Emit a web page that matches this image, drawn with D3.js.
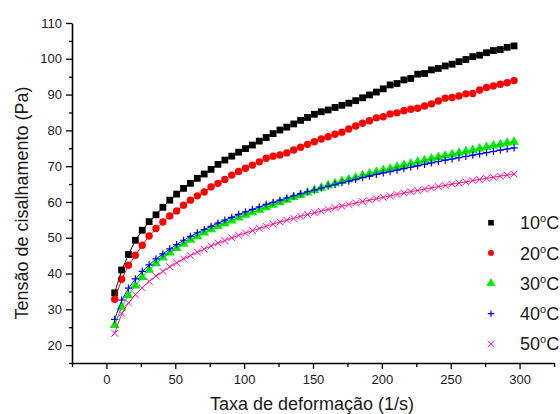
<!DOCTYPE html>
<html>
<head>
<meta charset="utf-8">
<script src="https://cdn.jsdelivr.net/npm/d3@7"></script>
<style>
  body { margin: 0; background: #fff; }
  svg { display: block; }
</style>
</head>
<body>
<svg></svg>
<script>
// shear rate (1/s), shared by every temperature
const shearRate = [6, 11, 16, 21, 26, 31, 36, 41, 46, 51, 56, 61, 66, 71, 76, 81, 86, 91, 96, 101,
  106, 111, 116, 121, 126, 131, 136, 141, 146, 151, 156, 161, 166, 171, 176, 181, 186, 191, 196, 201,
  206, 211, 216, 221, 226, 231, 236, 241, 246, 251, 256, 261, 266, 271, 276, 281, 286, 291, 296];

// shear stress (Pa)
const tau10 = [34.6, 41.0, 45.3, 49.3, 52.1, 54.5, 56.4, 58.5, 60.5, 62.2, 63.8, 65.2, 66.6, 67.8, 69.1,
  70.5, 71.7, 72.8, 73.9, 74.9, 75.9, 77.0, 78.0, 79.1, 80.1, 80.9, 81.8, 82.8, 83.6, 84.5, 85.2, 85.7,
  86.4, 87.0, 87.6, 88.3, 89.1, 89.9, 90.7, 91.6, 92.7, 93.1, 94.1, 94.5, 95.7, 95.9, 96.9, 97.3, 98.0,
  98.5, 99.2, 99.8, 100.6, 101.0, 101.7, 102.3, 102.6, 103.2, 103.6];
const tau20 = [32.8, 38.4, 42.3, 45.1, 47.9, 50.5, 52.6, 54.4, 56.1, 57.5, 59.1, 60.5, 61.7, 62.8, 64.2,
  65.2, 66.3, 67.5, 68.5, 69.4, 70.3, 71.2, 72.2, 72.8, 73.1, 73.7, 74.5, 75.3, 76.1, 76.8, 77.6, 78.2,
  78.9, 79.5, 80.4, 81.2, 82.0, 82.7, 83.5, 83.8, 84.6, 84.9, 85.5, 85.9, 86.2, 86.8, 87.4, 88.2, 89.0,
  89.2, 89.6, 90.2, 90.3, 91.3, 92.0, 92.4, 92.9, 93.3, 93.9];
const tau30 = [25.6, 30.7, 33.9, 36.6, 39.0, 41.0, 42.8, 44.4, 45.8, 47.1, 48.3, 49.4, 50.4, 51.4, 52.3,
  53.2, 54.0, 54.8, 55.6, 56.4, 57.1, 57.8, 58.5, 59.2, 59.9, 60.6, 61.3, 61.9, 62.6, 63.3, 63.9, 64.6,
  65.2, 65.8, 66.3, 66.8, 67.4, 67.9, 68.4, 68.9, 69.3, 69.8, 70.3, 70.7, 71.2, 71.6, 72.1, 72.5, 72.9,
  73.3, 73.7, 74.1, 74.5, 74.9, 75.3, 75.7, 76.1, 76.5, 76.8];
const tau40 = [27.2, 32.6, 35.9, 38.5, 40.6, 42.4, 44.1, 45.5, 46.9, 48.1, 49.3, 50.4, 51.4, 52.3, 53.2,
  54.1, 54.9, 55.7, 56.5, 57.2, 57.9, 58.6, 59.3, 59.9, 60.5, 61.1, 61.7, 62.3, 62.8, 63.3, 63.9, 64.4,
  64.9, 65.4, 65.8, 66.3, 66.8, 67.2, 67.7, 68.1, 68.5, 68.9, 69.3, 69.7, 70.1, 70.5, 70.9, 71.3, 71.7,
  72.0, 72.4, 72.7, 73.1, 73.4, 73.8, 74.1, 74.5, 74.8, 75.1];
const tau50 = [23.3, 28.9, 31.8, 34.1, 36.0, 37.8, 39.3, 40.6, 41.9, 43.0, 44.1, 45.0, 46.0, 46.8, 47.7,
  48.5, 49.2, 50.0, 50.7, 51.3, 52.0, 52.6, 53.2, 53.8, 54.4, 54.9, 55.4, 56.0, 56.5, 57.0, 57.4, 57.9,
  58.4, 58.8, 59.3, 59.7, 60.1, 60.5, 60.9, 61.3, 61.7, 62.1, 62.5, 62.9, 63.2, 63.6, 63.9, 64.3, 64.6,
  65.0, 65.3, 65.6, 66.0, 66.3, 66.6, 66.9, 67.2, 67.5, 67.8];

const temperatures = ["10", "20", "30", "40", "50"];
const stressSeries = [tau10, tau20, tau30, tau40, tau50];

// tick labels
const xMajor = [0, 50, 100, 150, 200, 250, 300];
const xMinor = [-25, 25, 75, 125, 175, 225, 275, 325];
const yMajor = [20, 30, 40, 50, 60, 70, 80, 90, 100, 110];
const yMinor = [15, 25, 35, 45, 55, 65, 75, 85, 95, 105];

// styles per series
const markerColors = ["#000000", "#ff0000", "#00ee00", "#0000ff", "#ff00ff"];
const lineColors = ["#000000", "#ff0000", "#00cc00", "#0000ff", "#ff2040"];
const shapes = ["square", "circle", "triangle", "plus", "times"];

const w = 560;
const h = 414;
const font = "Arial, 'Liberation Sans', sans-serif";

const svg = d3.select("svg").attr("width", w).attr("height", h);

const x = d3.scaleLinear().domain([-25, 325]).range([72, 554]);
const y = d3.scaleLinear().domain([15, 110]).range([363, 23]);

// draw one marker centred at (cx, cy)
function marker(g, shape, s, color, cx, cy) {
  if (shape === "plus") {
    g.append("path")
      .attr("d", `M${cx - s},${cy}H${cx + s}M${cx},${cy - s}V${cy + s}`)
      .attr("stroke", color).attr("stroke-width", 1.2).attr("fill", "none");
  } else if (shape === "times") {
    g.append("path")
      .attr("d", `M${cx - s},${cy - s}L${cx + s},${cy + s}M${cx - s},${cy + s}L${cx + s},${cy - s}`)
      .attr("stroke", color).attr("stroke-width", 1).attr("fill", "none");
  } else {
    const type = { square: d3.symbolSquare, circle: d3.symbolCircle, triangle: d3.symbolTriangle }[shape];
    const area = { square: 4 * s * s, circle: Math.PI * s * s, triangle: 3.2 * s * s }[shape];
    g.append("path")
      .attr("d", d3.symbol().type(type).size(area)())
      .attr("transform", `translate(${cx},${cy})`)
      .attr("fill", color);
  }
}

const plot = svg.append("g");
const markerSize = [3.4, 3.7, 3.6, 3.6, 3.4];

stressSeries.forEach((vals, i) => {
  const g = plot.append("g");
  vals.forEach((v, j) => marker(g, shapes[i], markerSize[i], markerColors[i], x(shearRate[j]), y(v)));
});

// fitted curves drawn over the points
const line = d3.line()
  .x((d, j) => x(shearRate[j]))
  .y(d => y(d))
  .curve(d3.curveBasis);

stressSeries.forEach((vals, i) => {
  plot.append("path")
    .attr("d", line(vals))
    .attr("fill", "none")
    .attr("stroke", lineColors[i])
    .attr("stroke-width", 1);
});

// axes
function styleAxis(g) {
  g.attr("font-family", font).attr("font-size", 13);
  g.selectAll("text").attr("fill", "#1a1a1a");
  g.selectAll("line").attr("stroke-width", 1.3);
  g.select(".domain").attr("stroke-width", 1.6);
}

svg.append("g")
  .attr("transform", `translate(0, 363)`)
  .call(d3.axisBottom(x).tickValues(xMinor).tickSize(4).tickFormat("").tickSizeOuter(0))
  .call(g => g.select(".domain").remove())
  .call(styleAxis);
svg.append("g")
  .attr("transform", `translate(0, 363)`)
  .call(d3.axisBottom(x).tickValues(xMajor).tickSize(6).tickPadding(6).tickSizeOuter(0))
  .call(styleAxis);

svg.append("g")
  .attr("transform", `translate(72, 0)`)
  .call(d3.axisLeft(y).tickValues(yMinor).tickSize(3).tickFormat("").tickSizeOuter(0))
  .call(g => g.select(".domain").remove())
  .call(styleAxis);
svg.append("g")
  .attr("transform", `translate(72, 0)`)
  .call(d3.axisLeft(y).tickValues(yMajor).tickSize(6).tickPadding(4).tickSizeOuter(0))
  .call(styleAxis);

// axis titles
svg.append("text")
  .attr("transform", "translate(28, 203) rotate(-90)")
  .attr("text-anchor", "middle")
  .attr("font-family", font)
  .attr("font-size", 18)
  .attr("fill", "#1a1a1a")
  .text("Tensão de cisalhamento (Pa)");

svg.append("text")
  .attr("x", 312)
  .attr("y", 410)
  .attr("text-anchor", "middle")
  .attr("font-family", font)
  .attr("font-size", 18)
  .attr("fill", "#1a1a1a")
  .text("Taxa de deformação (1/s)");

// legend
const legendSize = [2.8, 3, 3.4, 3.2, 3.2];
temperatures.forEach((t, i) => {
  const cy = 222.7 + i * 30.3;
  const g = svg.append("g");
  marker(g, shapes[i], legendSize[i], markerColors[i], 491, cy);
  const txt = g.append("text")
    .attr("x", 520)
    .attr("y", cy + 6.5)
    .attr("font-family", font)
    .attr("font-size", 18)
    .attr("fill", "#1a1a1a");
  txt.append("tspan").text(t);
  txt.append("tspan").attr("font-size", 11).attr("dy", -7).text("o");
  txt.append("tspan").attr("dy", 7).text("C");
});
</script>
</body>
</html>
